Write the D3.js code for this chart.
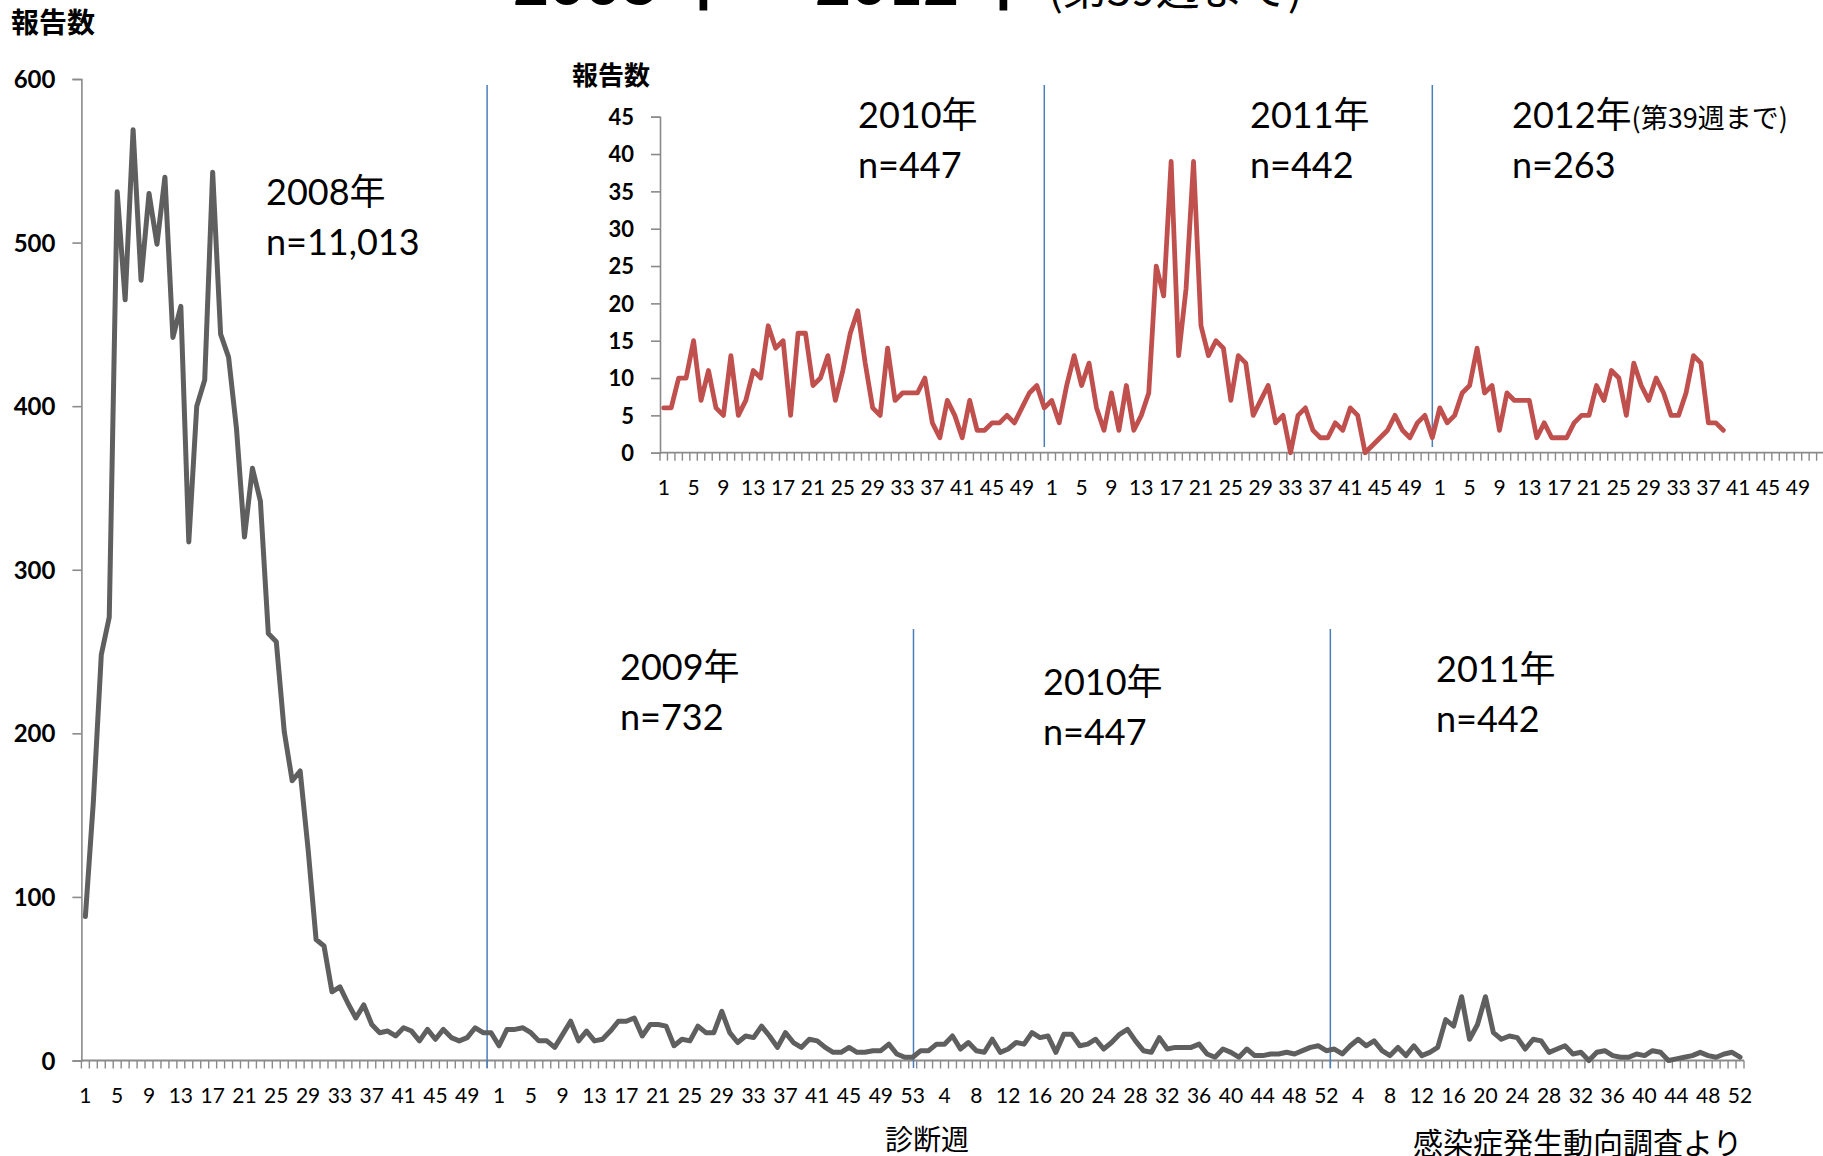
<!DOCTYPE html>
<html><head><meta charset="utf-8">
<script src="https://cdn.jsdelivr.net/npm/d3@7"></script>
<style>
html,body{margin:0;padding:0;background:#fff;overflow:hidden}
svg{display:block}
</style></head><body>
<svg id="chart" width="1823" height="1156"></svg>
<script>
// ---- data (weekly report counts) ----
const weeks2008 = [88,158,248,271,531,465,569,477,530,499,540,442,461,317,400,416,543,444,430,386,320,362,342,261,256,201,171,177,129,74,70,42,45,35,26,34,22,17,18,15,20,18,12,19,13,19,14,12,14,20,17,17];
const weeks2009 = [9,19,19,20,17,12,12,8,16,24,12,18,12,13,18,24,24,26,15,22,22,21,9,13,12,21,17,17,30,17,11,15,14,21,15,8,17,11,8,13,12,8,5,5,8,5,5,6,6,10,4,2,2];
const weeks2010 = [6,6,10,10,15,7,11,6,5,13,5,7,11,10,17,14,15,5,16,16,9,10,13,7,11,16,19,12,6,5,14,7,8,8,8,10,4,2,7,5,2,7,3,3,4,4,5,4,6,8,9,6];
const weeks2011 = [7,4,9,13,9,12,6,3,8,3,9,3,5,8,25,21,39,13,22,39,17,13,15,14,7,13,12,5,7,9,4,5,0,5,6,3,2,2,4,3,6,5,0,1,2,3,5,3,2,4,5,2];
const weeks2012 = [6,4,5,8,9,14,8,9,3,8,7,7,7,2,4,2,2,2,4,5,5,9,7,11,10,5,12,9,7,10,8,5,5,8,13,12,4,4,3];

const mainYTicks = [0,100,200,300,400,500,600];
const insetYTicks = [0,5,10,15,20,25,30,35,40,45];
const mainYearLabels = ["2008年","2009年","2010年","2011年"];
const mainCountLabels = ["n=11,013","n=732","n=447","n=442"];
const insetYearLabels = ["2010年","2011年","2012年"];
const insetCountLabels = ["n=447","n=442","n=263"];
const insetSlotsPerYear = [52,52,52];
const yAxisTitle = "報告数";
const xAxisTitle = "診断週";
const sourceNote = "感染症発生動向調査より";

// ---- build series ----
const mainData = [];
[weeks2008, weeks2009, weeks2010, weeks2011].forEach(arr =>
  arr.forEach((v,k) => mainData.push({week:k+1, value:v})));
mainData.forEach((d,i) => d.i = i);

const insetData = [];
[weeks2010, weeks2011, weeks2012].forEach((arr,yi) => {
  for (let w = 1; w <= insetSlotsPerYear[yi]; w++)
    insetData.push({week:w, value: w <= arr.length ? arr[w-1] : null});
});
insetData.forEach((d,i) => d.i = i);

const LATIN = "Lato, 'Noto Sans CJK JP', sans-serif";
const CJK = "'Noto Sans CJK JP', sans-serif";
const AXIS = "#8a8a8a";

const svg = d3.select("#chart");

// ---- main chart ----
const mx = d3.scaleBand().domain(d3.range(mainData.length)).range([81.4, 1744]);
const my = d3.scaleLinear().domain([0,600]).range([1060.5, 79]);
const mcx = i => mx(i) + mx.bandwidth()/2;
const mBound = d3.scaleLinear().domain([0, mainData.length]).range(mx.range());

const gMain = svg.append("g");
// y axis
const yAxisMain = d3.axisLeft(my).tickValues(mainYTicks).tickSize(9).tickPadding(18).tickFormat(d3.format("d"));
const gy = gMain.append("g").attr("transform", `translate(${mx.range()[0]},0)`).call(yAxisMain);
gy.select(".domain").attr("stroke", AXIS).attr("stroke-width", 1.6);
gy.selectAll(".tick line").attr("stroke", AXIS).attr("stroke-width", 1.6);
gy.selectAll(".tick text").attr("font-family", LATIN).attr("font-weight", "bold")
  .attr("font-size", 24).attr("fill", "#000").attr("x", -26).attr("dy", "0.36em");

// x axis
gMain.append("line").attr("x1", mx.range()[0]).attr("x2", mx.range()[1])
  .attr("y1", my(0)).attr("y2", my(0)).attr("stroke", AXIS).attr("stroke-width", 1.8);
gMain.append("g").selectAll("line").data(d3.range(mainData.length + 1)).join("line")
  .attr("x1", b => mBound(b)).attr("x2", b => mBound(b))
  .attr("y1", my(0)).attr("y2", my(0) + 8).attr("stroke", AXIS).attr("stroke-width", 1.4);
gMain.append("g").selectAll("text").data(mainData.filter(d => d.i % 4 === 0)).join("text")
  .attr("x", d => mcx(d.i)).attr("y", 1103).attr("text-anchor", "middle")
  .attr("font-family", LATIN).attr("font-size", 21).attr("fill", "#000")
  .text(d => d.week);

// separators (main)
const mainSeps = [{b:51, top:85}, {b:104.6, top:629}, {b:157, top:629}];
gMain.append("g").selectAll("line").data(mainSeps).join("line")
  .attr("x1", d => mBound(d.b)).attr("x2", d => mBound(d.b))
  .attr("y1", d => d.top).attr("y2", 1068)
  .attr("stroke", "#4a7ebb").attr("stroke-width", 1.5);

// line
gMain.append("path").datum(mainData)
  .attr("fill", "none").attr("stroke", "#5f5f5f").attr("stroke-width", 5)
  .attr("stroke-linejoin", "round").attr("stroke-linecap", "round")
  .attr("d", d3.line().x(d => mcx(d.i)).y(d => my(d.value)));

// ---- inset chart ----
const ix = d3.scaleBand().domain(d3.range(insetData.length)).range([660, 660 + insetData.length * 7.462]);
const iy = d3.scaleLinear().domain([0,45]).range([452.7, 116.7]);
const icx = i => ix(i) + ix.bandwidth()/2;
const iBound = d3.scaleLinear().domain([0, insetData.length]).range(ix.range());
const gIn = svg.append("g");

const yAxisIn = d3.axisLeft(iy).tickValues(insetYTicks).tickSize(9).tickPadding(17).tickFormat(d3.format("d"));
const giy = gIn.append("g").attr("transform", `translate(${ix.range()[0]},0)`).call(yAxisIn);
giy.select(".domain").attr("stroke", AXIS).attr("stroke-width", 1.6);
giy.selectAll(".tick line").attr("stroke", AXIS).attr("stroke-width", 1.6);
giy.selectAll(".tick text").attr("font-family", LATIN).attr("font-weight", "bold")
  .attr("font-size", 22).attr("fill", "#000").attr("x", -26).attr("dy", "0.36em");

gIn.append("line").attr("x1", ix.range()[0]).attr("x2", ix.range()[1])
  .attr("y1", iy(0)).attr("y2", iy(0)).attr("stroke", AXIS).attr("stroke-width", 1.8);
gIn.append("g").selectAll("line").data(d3.range(insetData.length + 1)).join("line")
  .attr("x1", b => iBound(b)).attr("x2", b => iBound(b))
  .attr("y1", iy(0)).attr("y2", iy(0) + 8).attr("stroke", AXIS).attr("stroke-width", 1.4);
gIn.append("g").selectAll("text").data(insetData.filter(d => d.i % 4 === 0)).join("text")
  .attr("x", d => icx(d.i)).attr("y", 495).attr("text-anchor", "middle")
  .attr("font-family", LATIN).attr("font-size", 21).attr("fill", "#000")
  .text(d => d.week);

const insetSeps = [51.5, 103.5];
gIn.append("g").selectAll("line").data(insetSeps).join("line")
  .attr("x1", b => iBound(b)).attr("x2", b => iBound(b))
  .attr("y1", 85).attr("y2", 447)
  .attr("stroke", "#4a7ebb").attr("stroke-width", 1.5);

gIn.append("path").datum(insetData.filter(d => d.value !== null))
  .attr("fill", "none").attr("stroke", "#c0504d").attr("stroke-width", 4.8)
  .attr("stroke-linejoin", "round").attr("stroke-linecap", "round")
  .attr("d", d3.line().x(d => icx(d.i)).y(d => iy(d.value)));

// ---- texts ----
function txt(x, y, s, size, opts={}) {
  return svg.append("text").attr("x", x).attr("y", y)
    .attr("font-family", opts.family || LATIN).attr("font-size", size)
    .attr("font-weight", opts.weight || "normal").attr("fill", "#000")
    .attr("text-anchor", opts.anchor || "start").text(s);
}
// title (mostly cut off at the top)
txt(513, 5, "2008", 62, {weight:"bold"});
txt(669, 5, "年", 62, {weight:"bold", family:CJK});
txt(737, 5, "～", 62, {weight:"bold", family:CJK});
txt(815, 5, "2012", 62, {weight:"bold"});
txt(969, 5, "年", 62, {weight:"bold", family:CJK});
txt(1048, 5, "(第39週まで)", 44, {family:CJK});

// axis titles
txt(11, 33, yAxisTitle, 28, {weight:"bold", family:CJK});
txt(572, 85, yAxisTitle, 26, {weight:"bold", family:CJK});
txt(927, 1150, xAxisTitle, 28, {family:CJK, anchor:"middle"});
txt(1413, 1154, sourceNote, 30, {family:CJK});

// main annotations
const mainAnnPos = [[266,205],[620,680],[1043,695],[1436,682]];
mainYearLabels.forEach((s,k) => {
  txt(mainAnnPos[k][0], mainAnnPos[k][1], s, 36);
  txt(mainAnnPos[k][0], mainAnnPos[k][1] + 50, mainCountLabels[k], 36);
});
// inset annotations
const insetAnnPos = [[858,128],[1250,128],[1512,128]];
insetYearLabels.forEach((s,k) => {
  const t = txt(insetAnnPos[k][0], insetAnnPos[k][1], s, 36);
  if (k === 2) t.append("tspan").attr("font-size", 27).attr("font-family", CJK).text("(第39週まで)");
  txt(insetAnnPos[k][0], insetAnnPos[k][1] + 50, insetCountLabels[k], 36);
});
</script>
</body></html>
